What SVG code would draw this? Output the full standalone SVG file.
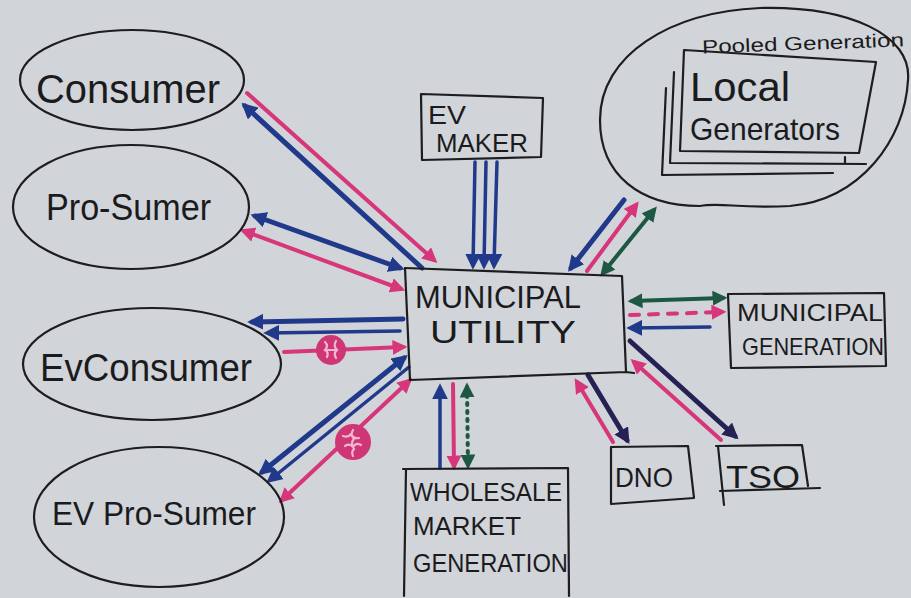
<svg xmlns="http://www.w3.org/2000/svg" width="911" height="598" viewBox="0 0 911 598">
  <defs>
    <style>
      .ink { fill: none; stroke: #1d1d1f; stroke-width: 2.2; stroke-linejoin: round; stroke-linecap: round; }
      .label { fill: #1b1b1d; font-family: "Liberation Sans", "DejaVu Sans", sans-serif; }
      .caps { fill: #1b1b1d; font-family: "Liberation Sans", "DejaVu Sans", sans-serif; }
      .pink { stroke: #d8367a; stroke-width: 4; fill: none; stroke-linecap: round; }
      .blue { stroke: #21398a; stroke-width: 5; fill: none; stroke-linecap: round; }
      .navy { stroke: #252154; stroke-width: 5; fill: none; stroke-linecap: round; }
      .green { stroke: #1e5842; stroke-width: 4; fill: none; stroke-linecap: round; }
      .thinblue { stroke: #21398a; stroke-width: 3.5; fill: none; stroke-linecap: round; }
    </style>
    <marker id="ah-pink" viewBox="0 0 10 10" refX="7" refY="5" markerUnits="userSpaceOnUse" markerWidth="15" markerHeight="15" orient="auto-start-reverse">
      <path d="M0,0 L10,5 L0,10 z" fill="#d8367a"/>
    </marker>
    <marker id="ah-blue" viewBox="0 0 10 10" refX="7" refY="5" markerUnits="userSpaceOnUse" markerWidth="16" markerHeight="16" orient="auto-start-reverse">
      <path d="M0,0 L10,5 L0,10 z" fill="#21398a"/>
    </marker>
    <marker id="ah-navy" viewBox="0 0 10 10" refX="7" refY="5" markerUnits="userSpaceOnUse" markerWidth="16" markerHeight="16" orient="auto-start-reverse">
      <path d="M0,0 L10,5 L0,10 z" fill="#252154"/>
    </marker>
    <marker id="ah-green" viewBox="0 0 10 10" refX="7" refY="5" markerUnits="userSpaceOnUse" markerWidth="15" markerHeight="15" orient="auto-start-reverse">
      <path d="M0,0 L10,5 L0,10 z" fill="#1e5842"/>
    </marker>
  </defs>

  <!-- paper -->
  <rect x="0" y="0" width="911" height="598" fill="#d1d4d9"/>

  <!-- connectors -->
  <g id="connectors">
    <!-- Consumer -->
    <path class="pink" d="M247,93 L434,260" marker-end="url(#ah-pink)"/>
    <path class="blue" d="M245,106 L422,268" marker-start="url(#ah-blue)"/>
    <!-- Pro-Sumer -->
    <path class="blue" d="M255,216 L400,268" marker-start="url(#ah-blue)" marker-end="url(#ah-blue)"/>
    <path class="pink" d="M244,231 L401,289" marker-start="url(#ah-pink)" marker-end="url(#ah-pink)"/>
    <!-- EvConsumer -->
    <path class="blue" d="M403,319 L252,322" marker-end="url(#ah-blue)"/>
    <path class="thinblue" d="M400,331 L268,333" marker-end="url(#ah-blue)"/>
    <path class="pink" d="M284,352 L403,347" stroke-width="3" marker-end="url(#ah-pink)"/>
    <!-- EV Pro-Sumer -->
    <path class="blue" d="M404,358 L262,472" marker-start="url(#ah-blue)" marker-end="url(#ah-blue)"/>
    <path class="thinblue" d="M409,367 L270,480" marker-end="url(#ah-blue)"/>
    <path class="pink" d="M409,381 L282,500" stroke-width="3" marker-start="url(#ah-pink)" marker-end="url(#ah-pink)"/>
    <!-- EV MAKER -->
    <path class="thinblue" d="M475,162 L473,265" marker-end="url(#ah-blue)"/>
    <path class="thinblue" d="M486,162 L484,265" marker-end="url(#ah-blue)"/>
    <path class="thinblue" d="M497,162 L494,265" marker-end="url(#ah-blue)"/>
    <!-- Pooled Generation -->
    <path class="blue" d="M624,200 L571,268" marker-end="url(#ah-blue)"/>
    <path class="pink" d="M587,271 L636,205" marker-end="url(#ah-pink)"/>
    <path class="green" d="M654,210 L603,273" marker-start="url(#ah-green)" marker-end="url(#ah-green)"/>
    <!-- Municipal Generation -->
    <path class="green" d="M632,301 L723,298" marker-start="url(#ah-green)" marker-end="url(#ah-green)"/>
    <path class="pink" d="M630,315 L722,312" stroke-dasharray="9 10" marker-end="url(#ah-pink)"/>
    <path class="thinblue" d="M710,327 L631,328" marker-end="url(#ah-blue)"/>
    <!-- DNO -->
    <path class="navy" d="M588,375 L627,440" marker-end="url(#ah-navy)"/>
    <path class="pink" d="M613,442 L577,382" stroke-width="3.5" marker-end="url(#ah-pink)"/>
    <!-- TSO -->
    <path class="navy" d="M630,341 L735,436" marker-end="url(#ah-navy)"/>
    <path class="pink" d="M721,440 L634,362" stroke-width="3.5" marker-end="url(#ah-pink)"/>
    <!-- Wholesale Market Generation -->
    <path class="thinblue" d="M440,468 L440,388" marker-end="url(#ah-blue)"/>
    <path class="pink" d="M453,384 L454,466" stroke-width="3" marker-end="url(#ah-pink)"/>
    <path class="green" d="M467,387 L468,465" stroke-width="3.5" stroke-dasharray="2 6" marker-start="url(#ah-green)" marker-end="url(#ah-green)"/>

    <!-- pink disc symbols on EV lines -->
    <g>
      <circle cx="331" cy="350" r="15" fill="#cf3675"/>
      <path d="M325,342 q4,4 0,8 q4,2 2,7 M336,341 q-3,5 1,9 q-4,3 -1,8 M327,350 l9,0" stroke="#f2b7cf" stroke-width="2.2" fill="none" stroke-linecap="round"/>
      <circle cx="353" cy="442" r="18" fill="#cf3675"/>
      <path d="M343,436 q5,2 8,-2 q2,5 8,4 M345,446 q5,-3 8,1 q3,-5 8,-2 M353,430 q-3,5 1,9 q-4,4 0,10 q-3,3 -1,7" stroke="#f2b7cf" stroke-width="2.2" fill="none" stroke-linecap="round"/>
    </g>
  </g>

  <!-- Consumer -->
  <g id="consumer">
    <ellipse class="ink" cx="132" cy="80" rx="112" ry="50"/>
    <text class="label" x="36" y="103" font-size="40" textLength="184" lengthAdjust="spacingAndGlyphs">Consumer</text>
  </g>

  <!-- Pro-Sumer -->
  <g id="pro-sumer">
    <ellipse class="ink" cx="131" cy="207" rx="118" ry="62"/>
    <text class="label" x="46" y="220" font-size="36" textLength="165" lengthAdjust="spacingAndGlyphs">Pro-Sumer</text>
  </g>

  <!-- EvConsumer -->
  <g id="ev-consumer">
    <ellipse class="ink" cx="152" cy="364" rx="129" ry="56"/>
    <text class="label" x="40" y="381" font-size="38" textLength="212" lengthAdjust="spacingAndGlyphs">EvConsumer</text>
  </g>

  <!-- EV Pro-Sumer -->
  <g id="ev-pro-sumer">
    <ellipse class="ink" cx="159" cy="517" rx="125" ry="70"/>
    <text class="label" x="52" y="525" font-size="33" textLength="204" lengthAdjust="spacingAndGlyphs">EV Pro-Sumer</text>
  </g>

  <!-- EV MAKER -->
  <g id="ev-maker">
    <path class="ink" d="M421,94 L543,98 L541,157 L422,160 Z"/>
    <text class="caps" x="428" y="124" font-size="26" textLength="38" lengthAdjust="spacingAndGlyphs">EV</text>
    <text class="caps" x="436" y="152" font-size="26" textLength="92" lengthAdjust="spacingAndGlyphs">MAKER</text>
  </g>

  <!-- MUNICIPAL UTILITY -->
  <g id="municipal-utility">
    <path class="ink" d="M405,268 L622,276 L626,372 L634,373 M626,372 L410,380 Z"/>
    <path class="ink" d="M405,268 L410,380"/>
    <text class="caps" x="415" y="308" font-size="31" textLength="166" lengthAdjust="spacingAndGlyphs">MUNICIPAL</text>
    <text class="caps" x="430" y="343" font-size="31" textLength="146" lengthAdjust="spacingAndGlyphs">UTILITY</text>
  </g>

  <!-- Pooled Generation with Local Generators -->
  <g id="pooled-generation">
    <path class="ink" d="M760,8 C850,6 912,35 908,80 C905,140 860,200 790,206 C740,209 720,202 700,206 C640,206 600,175 600,120 C600,55 670,12 760,8 Z"/>
    <text class="label" x="702" y="50" font-size="19" textLength="202" lengthAdjust="spacingAndGlyphs" transform="rotate(-2 800 45)">Pooled Generation</text>
    <!-- stacked generator cards -->
    <path class="ink" d="M666,88 L662,175 L833,173"/>
    <path class="ink" d="M674,72 L670,163 L866,164 M845,163 L845,157"/>
    <path class="ink" d="M684,50 L876,62 L859,153 L680,151 Z"/>
    <text class="label" x="690" y="101" font-size="40" textLength="100" lengthAdjust="spacingAndGlyphs">Local</text>
    <text class="label" x="690" y="140" font-size="32" textLength="150" lengthAdjust="spacingAndGlyphs">Generators</text>
  </g>

  <!-- MUNICIPAL GENERATION -->
  <g id="municipal-generation">
    <path class="ink" d="M728,294 L884,293 L886,366 L731,368 Z"/>
    <text class="caps" x="737" y="321" font-size="24" textLength="146" lengthAdjust="spacingAndGlyphs">MUNICIPAL</text>
    <text class="caps" x="742" y="355" font-size="24" textLength="142" lengthAdjust="spacingAndGlyphs">GENERATION</text>
  </g>

  <!-- WHOLESALE MARKET GENERATION -->
  <g id="wholesale-market-generation">
    <path class="ink" d="M403,469 L568,468 L569,596 M406,469 L404,596"/>
    <text class="caps" x="410" y="501" font-size="25" textLength="152" lengthAdjust="spacingAndGlyphs">WHOLESALE</text>
    <text class="caps" x="413" y="535" font-size="25" textLength="108" lengthAdjust="spacingAndGlyphs">MARKET</text>
    <text class="caps" x="413" y="572" font-size="25" textLength="155" lengthAdjust="spacingAndGlyphs">GENERATION</text>
  </g>

  <!-- DNO -->
  <g id="dno">
    <path class="ink" d="M611,447 L688,446 L694,498 L611,504 Z"/>
    <text class="caps" x="615" y="487" font-size="28" textLength="58" lengthAdjust="spacingAndGlyphs">DNO</text>
  </g>

  <!-- TSO -->
  <g id="tso">
    <path class="ink" d="M716,446 L802,445 L808,486 M718,446 L724,505 M720,491 L820,488"/>
    <text class="caps" x="726" y="488" font-size="31" textLength="74" lengthAdjust="spacingAndGlyphs">TSO</text>
  </g>
</svg>
